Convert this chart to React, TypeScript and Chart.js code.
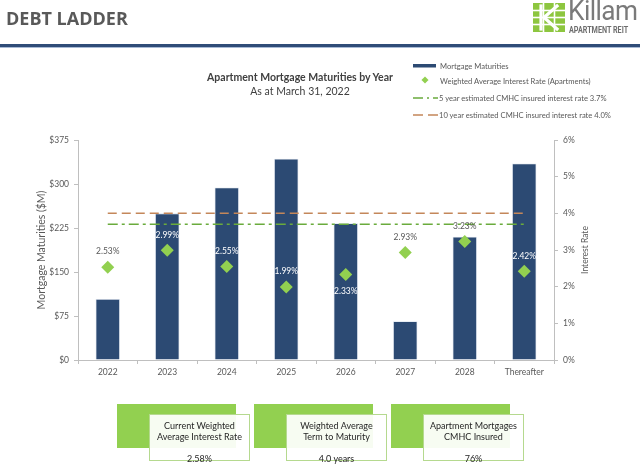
import React, { useEffect, useRef } from 'react';
import { Chart, registerables } from 'chart.js';

Chart.register(...registerables);

// ---- data ----
const categories = ['2022', '2023', '2024', '2025', '2026', '2027', '2028', 'Thereafter'];
const maturities = [104, 250, 294, 343, 233, 66, 210, 335];
const avgRates = [2.53, 2.99, 2.55, 1.99, 2.33, 2.93, 3.23, 2.42];
const fiveYearRate = [3.7, 3.7, 3.7, 3.7, 3.7, 3.7, 3.7, 3.7];
const tenYearRate = [4.0, 4.0, 4.0, 4.0, 4.0, 4.0, 4.0, 4.0];
const leftMax = 375;
const leftStep = 75;
const rightMax = 6;
const rightStep = 1;
const labelsBelow = ['2026'];

const legendLabels = [
  'Mortgage Maturities',
  'Weighted Average Interest Rate (Apartments)',
  '5 year estimated CMHC insured interest rate 3.7%',
  '10 year estimated CMHC insured interest rate 4.0%',
];

const boxTitles = [
  ['Current Weighted', 'Average Interest Rate'],
  ['Weighted Average', 'Term to Maturity'],
  ['Apartment Mortgages', 'CMHC Insured'],
];
const boxValues = ['2.58%', '4.0 years', '76%'];

const NAVY = '#2C4A73';
const DIAMOND = '#92D050';
const GREEN_LINE = '#6AAB3C';
const ORANGE_LINE = '#C4875A';
const GRAY = '#595959';
const AXIS = '#BFBFBF';
const FONT = 'Lato, "Open Sans", sans-serif';

const overlayPlugin = {
  id: 'overlay',
  afterDatasetsDraw(chart: any) {
    const ctx = chart.ctx;
    const ptMeta = chart.getDatasetMeta(3);
    const barMeta = chart.getDatasetMeta(0);
    ctx.save();
    ctx.font = '8.5px ' + FONT;
    ctx.textAlign = 'center';
    ctx.textBaseline = 'middle';
    ptMeta.data.forEach((pt: any, i: number) => {
      const below = labelsBelow.includes(categories[i]);
      const y = below ? pt.y + 17 : pt.y - 15.5;
      const bar = barMeta.data[i];
      const inside = y - 3 > bar.y;
      ctx.fillStyle = inside ? '#FFFFFF' : GRAY;
      ctx.fillText(avgRates[i].toFixed(2) + '%', pt.x, y);
    });
    ctx.restore();
  },
  afterDraw(chart: any) {
    const ctx = chart.ctx;
    const area = chart.chartArea;
    const cy = (area.top + area.bottom) / 2;
    ctx.save();
    ctx.fillStyle = GRAY;
    ctx.textAlign = 'center';
    ctx.textBaseline = 'middle';
    ctx.font = '10.5px ' + FONT;
    ctx.translate(42, cy);
    ctx.rotate(-Math.PI / 2);
    ctx.fillText('Mortgage Maturities ($M)', 0, 0);
    ctx.restore();
    ctx.save();
    ctx.fillStyle = GRAY;
    ctx.textAlign = 'center';
    ctx.textBaseline = 'middle';
    ctx.font = '8.5px ' + FONT;
    ctx.translate(585, cy);
    ctx.rotate(-Math.PI / 2);
    ctx.fillText('Interest Rate', 0, 0);
    ctx.restore();
  },
};

function KillamIcon() {
  return (
    <svg width="32" height="29" viewBox="0 0 32 29" style={{ position: 'absolute', left: 533, top: 3 }}>
      <rect x="0" y="0" width="32" height="29" fill="#8DC63F" />
      <g stroke="#FFFFFF" strokeWidth="1.6">
        <line x1="10.5" y1="0" x2="10.5" y2="29" />
        <line x1="21.5" y1="0" x2="21.5" y2="29" />
        <line x1="0" y1="7.5" x2="32" y2="7.5" />
        <line x1="0" y1="14.5" x2="32" y2="14.5" />
        <line x1="0" y1="21.5" x2="32" y2="21.5" />
      </g>
      <g stroke="#FFFFFF" strokeWidth="3.2" fill="none" strokeLinecap="square">
        <line x1="8" y1="3" x2="8" y2="26" />
        <polyline points="24,3 11,14.5 24,26" />
      </g>
    </svg>
  );
}

export default function App() {
  const canvasRef = useRef<HTMLCanvasElement | null>(null);

  useEffect(() => {
    const canvas = canvasRef.current;
    if (!canvas) return;
    const chart = new Chart(canvas, {
      type: 'bar',
      data: {
        labels: categories,
        datasets: [
          {
            type: 'bar',
            label: legendLabels[0],
            data: maturities,
            backgroundColor: NAVY,
            borderColor: '#D9E1EC',
            borderWidth: 0.8,
            barPercentage: 0.41,
            categoryPercentage: 1,
            yAxisID: 'y',
            order: 3,
          } as any,
          {
            type: 'line',
            label: legendLabels[2],
            data: fiveYearRate,
            borderColor: GREEN_LINE,
            borderWidth: 1.5,
            borderDash: [10, 4, 3, 4],
            pointRadius: 0,
            fill: false,
            yAxisID: 'y1',
            order: 2,
          } as any,
          {
            type: 'line',
            label: legendLabels[3],
            data: tenYearRate,
            borderColor: ORANGE_LINE,
            borderWidth: 1.5,
            borderDash: [9, 5],
            pointRadius: 0,
            fill: false,
            yAxisID: 'y1',
            order: 1,
          } as any,
          {
            type: 'line',
            label: legendLabels[1],
            data: avgRates,
            showLine: false,
            pointStyle: 'rectRot',
            pointRadius: 6.5,
            pointBackgroundColor: DIAMOND,
            pointBorderColor: DIAMOND,
            pointBorderWidth: 0,
            yAxisID: 'y1',
            order: 0,
          } as any,
        ],
      },
      options: {
        responsive: false,
        animation: false,
        devicePixelRatio: 1,
        layout: { padding: { top: 140, bottom: 93, left: 0, right: 0 } },
        plugins: {
          legend: { display: false },
          tooltip: { enabled: false },
          title: { display: false },
        },
        scales: {
          x: {
            grid: {
              display: true,
              drawOnChartArea: false,
              drawTicks: true,
              tickLength: 4,
              color: AXIS,
              offset: true,
            },
            border: { color: AXIS, width: 1 },
            ticks: { color: GRAY, font: { family: FONT, size: 8.5 }, padding: 3, maxRotation: 0 },
            afterFit: (s: any) => {
              s.height = 20;
            },
          },
          y: {
            position: 'left',
            min: 0,
            max: leftMax,
            grid: { display: true, drawOnChartArea: false, drawTicks: true, tickLength: 4, color: AXIS },
            border: { color: AXIS, width: 1 },
            ticks: {
              stepSize: leftStep,
              color: GRAY,
              font: { family: FONT, size: 8.5 },
              padding: 5,
              callback: (v: any) => '$' + v,
            },
            afterFit: (s: any) => {
              s.width = 78;
            },
          },
          y1: {
            position: 'right',
            min: 0,
            max: rightMax,
            grid: { display: true, drawOnChartArea: false, drawTicks: true, tickLength: 4, color: AXIS },
            border: { color: AXIS, width: 1 },
            ticks: {
              stepSize: rightStep,
              color: GRAY,
              font: { family: FONT, size: 8.5 },
              padding: 5,
              callback: (v: any) => v + '%',
            },
            afterFit: (s: any) => {
              s.width = 86;
            },
          },
        },
      } as any,
      plugins: [overlayPlugin],
    });
    return () => chart.destroy();
  }, []);

  const boxLefts = [117, 254, 391];
  const legendTop = [60, 75, 92, 109];

  return (
    <div
      style={{
        position: 'fixed',
        left: 0,
        top: 0,
        width: 640,
        height: 473,
        background: '#FFFFFF',
        overflow: 'hidden',
        fontFamily: FONT,
      }}
    >
      <canvas
        ref={canvasRef}
        width={640}
        height={473}
        style={{ position: 'absolute', left: 0, top: 0, width: 640, height: 473 }}
      />

      {/* header */}
      <div
        style={{
          position: 'absolute',
          left: 6,
          top: 6,
          fontFamily: '"Open Sans", sans-serif',
          fontWeight: 700,
          fontSize: 18,
          lineHeight: '24px',
          color: GRAY,
          whiteSpace: 'nowrap',
        }}
      >
        DEBT LADDER
      </div>
      <div style={{ position: 'absolute', left: 0, top: 44, width: 640, height: 3, background: '#2F4C78' }} />
      <div style={{ position: 'absolute', left: 0, top: 47, width: 640, height: 1, background: '#A9BBD6' }} />

      {/* logo */}
      <KillamIcon />
      <div
        style={{
          position: 'absolute',
          left: 568,
          top: -5,
          fontFamily: 'Roboto, sans-serif',
          fontSize: 28.5,
          lineHeight: '32px',
          color: '#7A7A7A',
          letterSpacing: -0.6,
          whiteSpace: 'nowrap',
          transform: 'scaleX(0.92)',
          transformOrigin: 'left top',
        }}
      >
        Killam
      </div>
      <div
        style={{
          position: 'absolute',
          left: 569,
          top: 25,
          fontFamily: 'Roboto, sans-serif',
          fontWeight: 700,
          fontSize: 9,
          lineHeight: '10px',
          color: '#6E6E6E',
          whiteSpace: 'nowrap',
          transform: 'scaleX(0.8)',
          transformOrigin: 'left top',
        }}
      >
        APARTMENT REIT
      </div>

      {/* chart titles */}
      <div
        style={{
          position: 'absolute',
          left: 150,
          width: 300,
          top: 70,
          textAlign: 'center',
          fontWeight: 700,
          fontSize: 10.5,
          lineHeight: '14px',
          color: '#404040',
        }}
      >
        Apartment Mortgage Maturities by Year
      </div>
      <div
        style={{
          position: 'absolute',
          left: 150,
          width: 300,
          top: 84,
          textAlign: 'center',
          fontSize: 10.5,
          lineHeight: '14px',
          color: '#404040',
        }}
      >
        As at March 31, 2022
      </div>

      {/* legend */}
      <svg width="40" height="70" style={{ position: 'absolute', left: 410, top: 58 }}>
        <rect x="3" y="6" width="23" height="3.5" fill={NAVY} />
        <rect x="12.5" y="19.5" width="5" height="5" fill={DIAMOND} transform="rotate(45 15 22)" />
        <line x1="3" y1="40" x2="28" y2="40" stroke={GREEN_LINE} strokeWidth="1.5" strokeDasharray="10,4,2,4" />
        <line x1="3" y1="57" x2="28" y2="57" stroke={ORANGE_LINE} strokeWidth="1.5" strokeDasharray="10,5" />
      </svg>
      {legendLabels.map((t, i) => (
        <div
          key={t}
          style={{
            position: 'absolute',
            left: i >= 2 ? 439 : 440,
            top: legendTop[i],
            fontSize: 7.6,
            lineHeight: '12px',
            color: GRAY,
            whiteSpace: 'nowrap',
          }}
        >
          {t}
        </div>
      ))}

      {/* summary boxes */}
      {boxTitles.map((lines, i) => (
        <React.Fragment key={i}>
          <div
            style={{
              position: 'absolute',
              left: boxLefts[i],
              top: 404,
              width: 119,
              height: 44,
              background: '#92D050',
            }}
          />
          <div
            style={{
              position: 'absolute',
              left: boxLefts[i] + 32,
              top: 414,
              width: 99,
              height: 45,
              border: '1.5px solid #B5D98F',
              background: 'rgba(255,255,255,0.93)',
              boxSizing: 'content-box',
            }}
          >
            <div
              style={{
                position: 'absolute',
                left: 0,
                width: 99,
                top: 6,
                textAlign: 'center',
                fontSize: 9,
                lineHeight: '10.5px',
                color: '#262626',
              }}
            >
              {lines[0]}
              <br />
              {lines[1]}
            </div>
            <div
              style={{
                position: 'absolute',
                left: 0,
                width: 99,
                top: 38,
                textAlign: 'center',
                fontSize: 9,
                lineHeight: '11px',
                color: '#262626',
              }}
            >
              {boxValues[i]}
            </div>
          </div>
        </React.Fragment>
      ))}
    </div>
  );
}
